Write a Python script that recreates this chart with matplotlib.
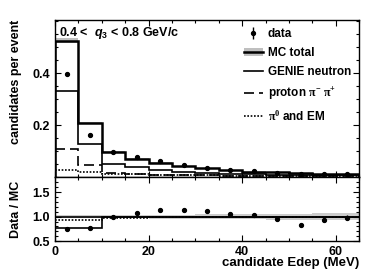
import numpy as np
import matplotlib
matplotlib.use("Agg")
import matplotlib.pyplot as plt
import matplotlib.lines as lines
import matplotlib.patches as patches
from matplotlib.ticker import MultipleLocator, FixedLocator, FormatStrFormatter

plt.rcParams['font.family'] = 'Liberation Sans'
plt.rcParams['font.weight'] = 'bold'
plt.rcParams['mathtext.fontset'] = 'custom'
plt.rcParams['mathtext.rm'] = 'Liberation Serif'
plt.rcParams['mathtext.it'] = 'Liberation Sans:italic:bold'
plt.rcParams['mathtext.bf'] = 'Liberation Sans:bold'

# bin edges (MeV) and per-bin values
edges = np.arange(0, 70, 5)
mc_total = [0.525, 0.208, 0.097, 0.071, 0.054, 0.042, 0.033, 0.026, 0.021, 0.018, 0.0155, 0.012, 0.010]
mc_err = [0.010, 0.005, 0.003, 0.0025, 0.002, 0.0018, 0.0016, 0.0014, 0.0013, 0.0012, 0.0011, 0.0010, 0.0009]
genie_neutron = [0.333, 0.129, 0.052, 0.037, 0.026, 0.021, 0.017, 0.013, 0.010, 0.009, 0.008, 0.007, 0.006]
proton_pi = [0.107, 0.045, 0.014, 0.010, 0.008, 0.007, 0.006, 0.005, 0.005, 0.004, 0.004, 0.004, 0.003]
pi0_em = [0.027, 0.018, 0.013, 0.010, 0.008, 0.007, 0.006, 0.005, 0.004, 0.004, 0.004, 0.003, 0.003]
data = [0.397, 0.160, 0.097, 0.076, 0.0615, 0.0475, 0.0366, 0.0276, 0.0216, 0.0170, 0.0130, 0.0113, 0.0098]
data_err = [0.004, 0.0025, 0.0015, 0.0012, 0.0010, 0.0009, 0.0008, 0.0007, 0.0006, 0.0006, 0.0005, 0.0005, 0.0005]

# ratio panel curves
ratio_band = [0.035, 0.035, 0.035, 0.035, 0.04, 0.04, 0.045, 0.05, 0.05, 0.06, 0.06, 0.07, 0.07]
ratio_solid = [0.76, 0.76, 1.0, 1.0, 1.0, 1.0, 1.0, 1.0, 1.0, 1.0, 1.0, 1.0, 1.0]
ratio_dotted = [0.94, 0.94, 0.975, 0.98, 0.99, 0.99, 0.995, 0.995, 1.0, 1.0, 1.0, 1.0, 1.0]

mc = np.array(mc_total)
mce = np.array(mc_err)
d = np.array(data)
de = np.array(data_err)
centers = 0.5 * (edges[:-1] + edges[1:])

fig = plt.figure(figsize=(3.82, 2.74), dpi=100)
ax = fig.add_axes([0.144, 0.354, 0.796, 0.573])
ax2 = fig.add_axes([0.144, 0.120, 0.796, 0.234], sharex=ax)

# top panel
ax.stairs(mc + mce, edges, baseline=mc - mce, fill=True, color='0.75', lw=0)
ax.stairs(mc, edges, color='black', lw=1.8, baseline=0)
ax.stairs(genie_neutron, edges, color='black', lw=1.2, baseline=None)
ax.stairs(proton_pi, edges, color='black', lw=1.2, ls=(0, (6, 3)), baseline=None)
ax.stairs(pi0_em, edges, color='black', lw=1.2, ls=(0, (1, 1)), baseline=None)
ax.errorbar(centers, d, yerr=de, fmt='o', color='black', ms=2.8, elinewidth=1, capsize=0)

ax.set_xlim(0, 65)
ax.set_ylim(0, 0.605)
ax.yaxis.set_major_locator(FixedLocator([0.2, 0.4]))
ax.yaxis.set_minor_locator(MultipleLocator(0.05))
ax.set_ylabel("candidates per event", fontsize=9, fontweight='bold', loc='top')
ax.yaxis.set_label_coords(-0.11, 1.0)
ax.tick_params(labelbottom=False)

ax.text(0.012, 0.97, r"0.4 <  $q_{\mathbf{3}}$ < 0.8 GeV/c", transform=ax.transAxes,
        fontsize=9, fontweight='bold', va='top', ha='left')

h_data = ax2.errorbar([], [], yerr=[], fmt='o', color='black', ms=2.8, elinewidth=1, capsize=0)
h_mc = (patches.Patch(facecolor='0.75', edgecolor='none'),
        lines.Line2D([], [], color='black', lw=1.8))
h_nu = lines.Line2D([], [], color='black', lw=1.2)
h_p = lines.Line2D([], [], color='black', lw=1.2, ls=(0, (6, 3)))
h_pi0 = lines.Line2D([], [], color='black', lw=1.2, ls=(0, (1, 1)))
leg = ax.legend([h_data, h_mc, h_nu, h_p, h_pi0],
                ['data', 'MC total', 'GENIE neutron', r'proton $\mathrm{\pi^{-}}$ $\mathrm{\pi^{+}}$',
                 r'$\mathrm{\pi^{0}}$ and EM'],
                loc='upper right', bbox_to_anchor=(1.0, 1.0), frameon=False,
                fontsize=8.5, handlelength=1.6, handletextpad=0.4, labelspacing=0.6,
                borderaxespad=0.3)

# ratio panel
ax2.stairs(1 + np.array(ratio_band), edges, baseline=1 - np.array(ratio_band),
           fill=True, color='0.8', lw=0)
ax2.axhline(1.0, color='black', lw=1.2)
ax2.stairs(ratio_solid, edges, color='black', lw=1.2, baseline=None)
ax2.stairs(ratio_dotted, edges, color='black', lw=1.2, ls=(0, (1, 1)), baseline=None)
ax2.errorbar(centers, d / mc, yerr=de / mc, fmt='o', color='black', ms=2.8,
             elinewidth=1, capsize=0)
ax2.set_ylim(0.5, 1.81)
ax2.yaxis.set_major_locator(FixedLocator([0.5, 1.0, 1.5]))
ax2.yaxis.set_major_formatter(FormatStrFormatter('%.1f'))
ax2.yaxis.set_minor_locator(MultipleLocator(0.1))
ax2.xaxis.set_major_locator(MultipleLocator(20))
ax2.xaxis.set_minor_locator(MultipleLocator(5))
ax2.set_ylabel("Data / MC", fontsize=9, fontweight='bold')
ax2.yaxis.set_label_coords(-0.11, 0.5)
ax2.set_xlabel("candidate Edep (MeV)", fontsize=9.5, fontweight='bold', loc='right', labelpad=-1)

for a in (ax, ax2):
    a.tick_params(which='both', direction='in', top=True, right=True, labelsize=9, width=0.8)
    a.tick_params(which='major', length=4)
    a.tick_params(which='minor', length=2)
    for s in a.spines.values():
        s.set_linewidth(1.0)
    for lab in a.get_xticklabels() + a.get_yticklabels():
        lab.set_fontweight('bold')

fig.savefig("out.png", dpi=100)
